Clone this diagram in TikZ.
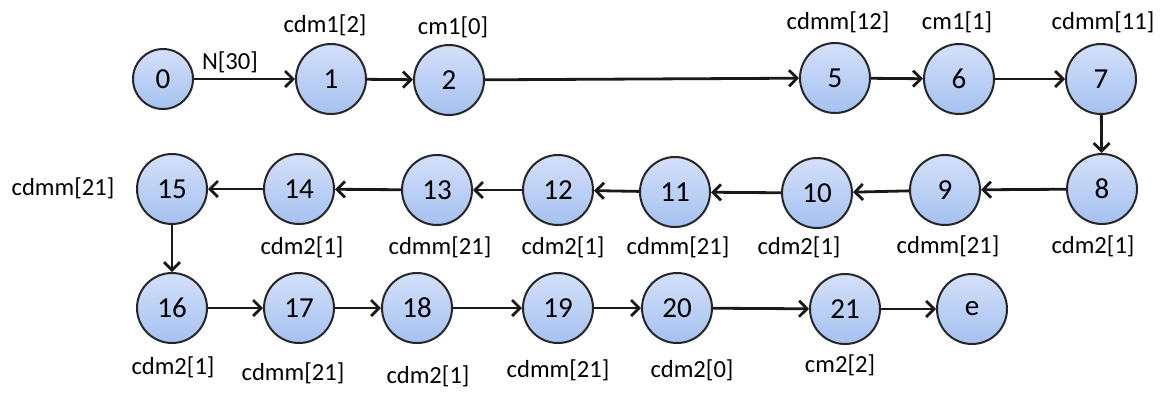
\documentclass[tikz,border=0pt]{standalone}
\usepackage{fontspec}
\setmainfont{Carlito}
\usetikzlibrary{arrows.meta}
\definecolor{topc}{RGB}{212,224,250}
\definecolor{botc}{RGB}{165,193,240}
\begin{document}
\begin{tikzpicture}[x=0.5pt,y=-0.5pt,
  st/.style={circle, draw=black!85, line width=1pt, top color=topc, bottom color=botc,
    minimum size=35pt, inner sep=0pt, font=\fontsize{14.5}{16}\selectfont},
  lab/.style={font=\fontsize{12.3}{14}\selectfont, inner sep=0pt},
  arr/.style={-{Straight Barb[length=4pt,width=8pt]}, line width=1.4pt, draw=black!90}]
\useasboundingbox (0,0) rectangle (1161,393);
% row 1
\node[st, circle, minimum size=30pt] (n0) at (163,79) {0};
\node[st] (n1) at (331,79) {1};
\node[st] (n2) at (449,80) {2};
\node[st] (n5) at (835,78) {5};
\node[st] (n6) at (959,79) {6};
\node[st] (n7) at (1101,79) {7};
% row 2
\node[st] (n15) at (172,189) {15};
\node[st] (n14) at (299,189) {14};
\node[st] (n13) at (437,190) {13};
\node[st] (n12) at (558,190) {12};
\node[st] (n11) at (675,192) {11};
\node[st] (n10) at (817,193) {10};
\node[st] (n9) at (945,190) {9};
\node[st] (n8) at (1102,189) {8};
% row 3
\node[st] (n16) at (172,308) {16};
\node[st] (n17) at (299,308) {17};
\node[st] (n18) at (417,308) {18};
\node[st] (n19) at (558,308) {19};
\node[st] (n20) at (677,308) {20};
\node[st] (n21) at (845,309) {21};
\node[st] (ne) at (972,309) {e};
% connectors
\draw[arr] (n0) -- (n1);
\draw[arr] (n1) -- (n2);
\draw[arr] (n2) -- (n5);
\draw[arr] (n5) -- (n6);
\draw[arr] (n6) -- (n7);
\draw[arr] (n7) -- (n8);
\draw[arr] (n8) -- (n9);
\draw[arr] (n9) -- (n10);
\draw[arr] (n10) -- (n11);
\draw[arr] (n11) -- (n12);
\draw[arr] (n12) -- (n13);
\draw[arr] (n13) -- (n14);
\draw[arr] (n14) -- (n15);
\draw[arr] (n15) -- (n16);
\draw[arr] (n16) -- (n17);
\draw[arr] (n17) -- (n18);
\draw[arr] (n18) -- (n19);
\draw[arr] (n19) -- (n20);
\draw[arr] (n20) -- (n21);
\draw[arr] (n21) -- (ne);
% labels
\node[lab] (l0) at (230,62) {N[30]};
\node[lab] (l1) at (325,25) {cdm1[2]};
\node[lab] (l2) at (453,27) {cm1[0]};
\node[lab] (l5) at (838,22) {cdmm[12]};
\node[lab] (l6) at (957,22) {cm1[1]};
\node[lab] (l7) at (1103,22) {cdmm[11]};
\node[lab] (l15) at (63,188) {cdmm[21]};
\node[lab] (l14) at (302,247) {cdm2[1]};
\node[lab] (l13) at (440,247) {cdmm[21]};
\node[lab] (l12) at (563,247) {cdm2[1]};
\node[lab] (l11) at (678,247) {cdmm[21]};
\node[lab] (l10) at (799,247) {cdm2[1]};
\node[lab] (l9) at (948,246) {cdmm[21]};
\node[lab] (l8) at (1093,246) {cdm2[1]};
\node[lab] (l16) at (173,367) {cdm2[1]};
\node[lab] (l17) at (293,373) {cdmm[21]};
\node[lab] (l18) at (428,376) {cdm2[1]};
\node[lab] (l19) at (558,370) {cdmm[21]};
\node[lab] (l20) at (692,370) {cdm2[0]};
\node[lab] (l21) at (840,365) {cm2[2]};
\end{tikzpicture}
\end{document}
